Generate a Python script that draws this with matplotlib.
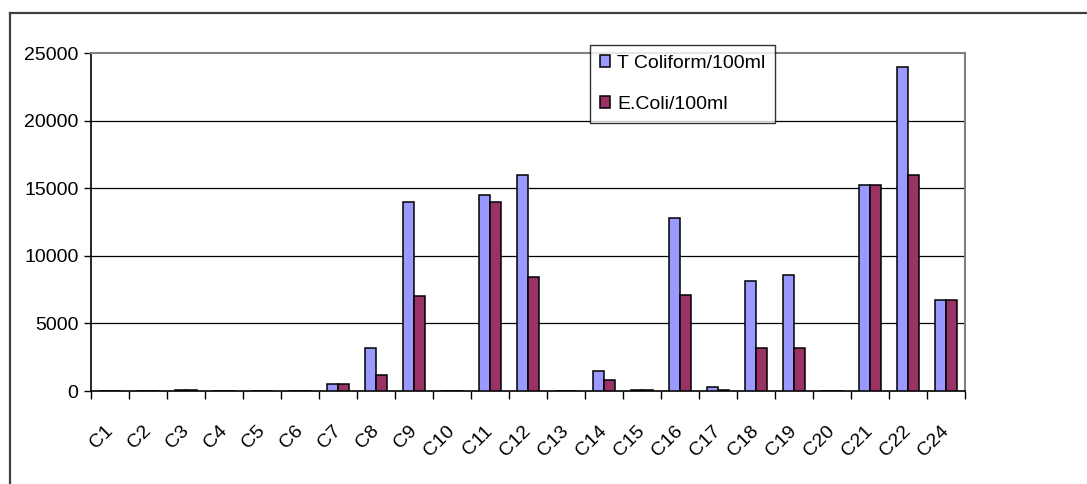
import matplotlib
matplotlib.use("Agg")
import matplotlib.pyplot as plt
import numpy as np
from matplotlib.lines import Line2D

categories = ["C1", "C2", "C3", "C4", "C5", "C6", "C7", "C8", "C9", "C10", "C11", "C12",
              "C13", "C14", "C15", "C16", "C17", "C18", "C19", "C20", "C21", "C22", "C24"]
t_coliform = [0, 0, 100, 0, 0, 0, 500, 3200, 14000, 0, 14500, 16000,
              0, 1500, 100, 12800, 300, 8100, 8600, 0, 15200, 24000, 6700]
e_coli = [0, 0, 100, 0, 0, 0, 500, 1200, 7000, 0, 14000, 8400,
          0, 800, 100, 7100, 100, 3200, 3200, 0, 15200, 16000, 6700]
series_names = ["T Coliform/100ml", "E.Coli/100ml"]
yticks = [0, 5000, 10000, 15000, 20000, 25000]

plt.rcParams['font.family'] = ['Liberation Sans', 'DejaVu Sans']
FS = 14

W, H = 1087, 484
fig = plt.figure(figsize=(W / 100, H / 100), dpi=100)
fig.patch.set_facecolor('white')

L, R, T, B = 91, 965, 53, 391
ax = fig.add_axes([L / W, (H - B) / H, (R - L) / W, (B - T) / H])

x = np.arange(len(categories))
bw = 0.30
ax.bar(x - bw / 2, t_coliform, width=bw, color='#9999FF', edgecolor='black',
       linewidth=1.1, label=series_names[0], zorder=3)
ax.bar(x + bw / 2, e_coli, width=bw, color='#993366', edgecolor='black',
       linewidth=1.1, label=series_names[1], zorder=3)

ax.set_xlim(-0.5, len(categories) - 0.5)
ax.set_ylim(0, 25000)

# gridlines
for v in yticks[1:-1]:
    ax.axhline(v, color='black', linewidth=0.9, zorder=1)

ax.set_yticks(yticks)
ax.set_yticklabels([str(v) for v in yticks], fontsize=FS)
ax.tick_params(axis='y', direction='out', length=5, width=1, pad=4, color='black')

ax.set_xticks(np.arange(len(categories) + 1) - 0.5)
ax.set_xticklabels([])
ax.tick_params(axis='x', which='major', direction='out', length=6, width=1, color='black')
ax.set_xticks(x, minor=True)
ax.set_xticklabels(categories, minor=True, rotation=45, ha='right', va='center',
                   rotation_mode='anchor', fontsize=FS)
ax.tick_params(axis='x', which='minor', length=0, pad=27)

for s in ['left', 'bottom']:
    ax.spines[s].set_color('black')
    ax.spines[s].set_linewidth(1.2)
for s in ['top', 'right']:
    ax.spines[s].set_color('#808080')
    ax.spines[s].set_linewidth(1.5)

leg = ax.legend(loc='upper left', bbox_to_anchor=((590 - L) / (R - L), (B - 45) / (B - T)),
                fontsize=FS, frameon=True, fancybox=False, edgecolor='black',
                handlelength=0.55, handleheight=0.55, handletextpad=0.35,
                labelspacing=1.25, borderpad=0.5, borderaxespad=0)
leg.get_frame().set_linewidth(1.0)
leg.set_zorder(5)

# outer chart border (cropped at right and bottom)
fig.add_artist(Line2D([10 / W, 10 / W], [0, 1 - 13 / H], color='#404040', linewidth=1.6,
                      transform=fig.transFigure))
fig.add_artist(Line2D([10 / W, 1], [1 - 13 / H, 1 - 13 / H], color='#404040', linewidth=1.6,
                      transform=fig.transFigure))

fig.savefig('out.png', dpi=100)
